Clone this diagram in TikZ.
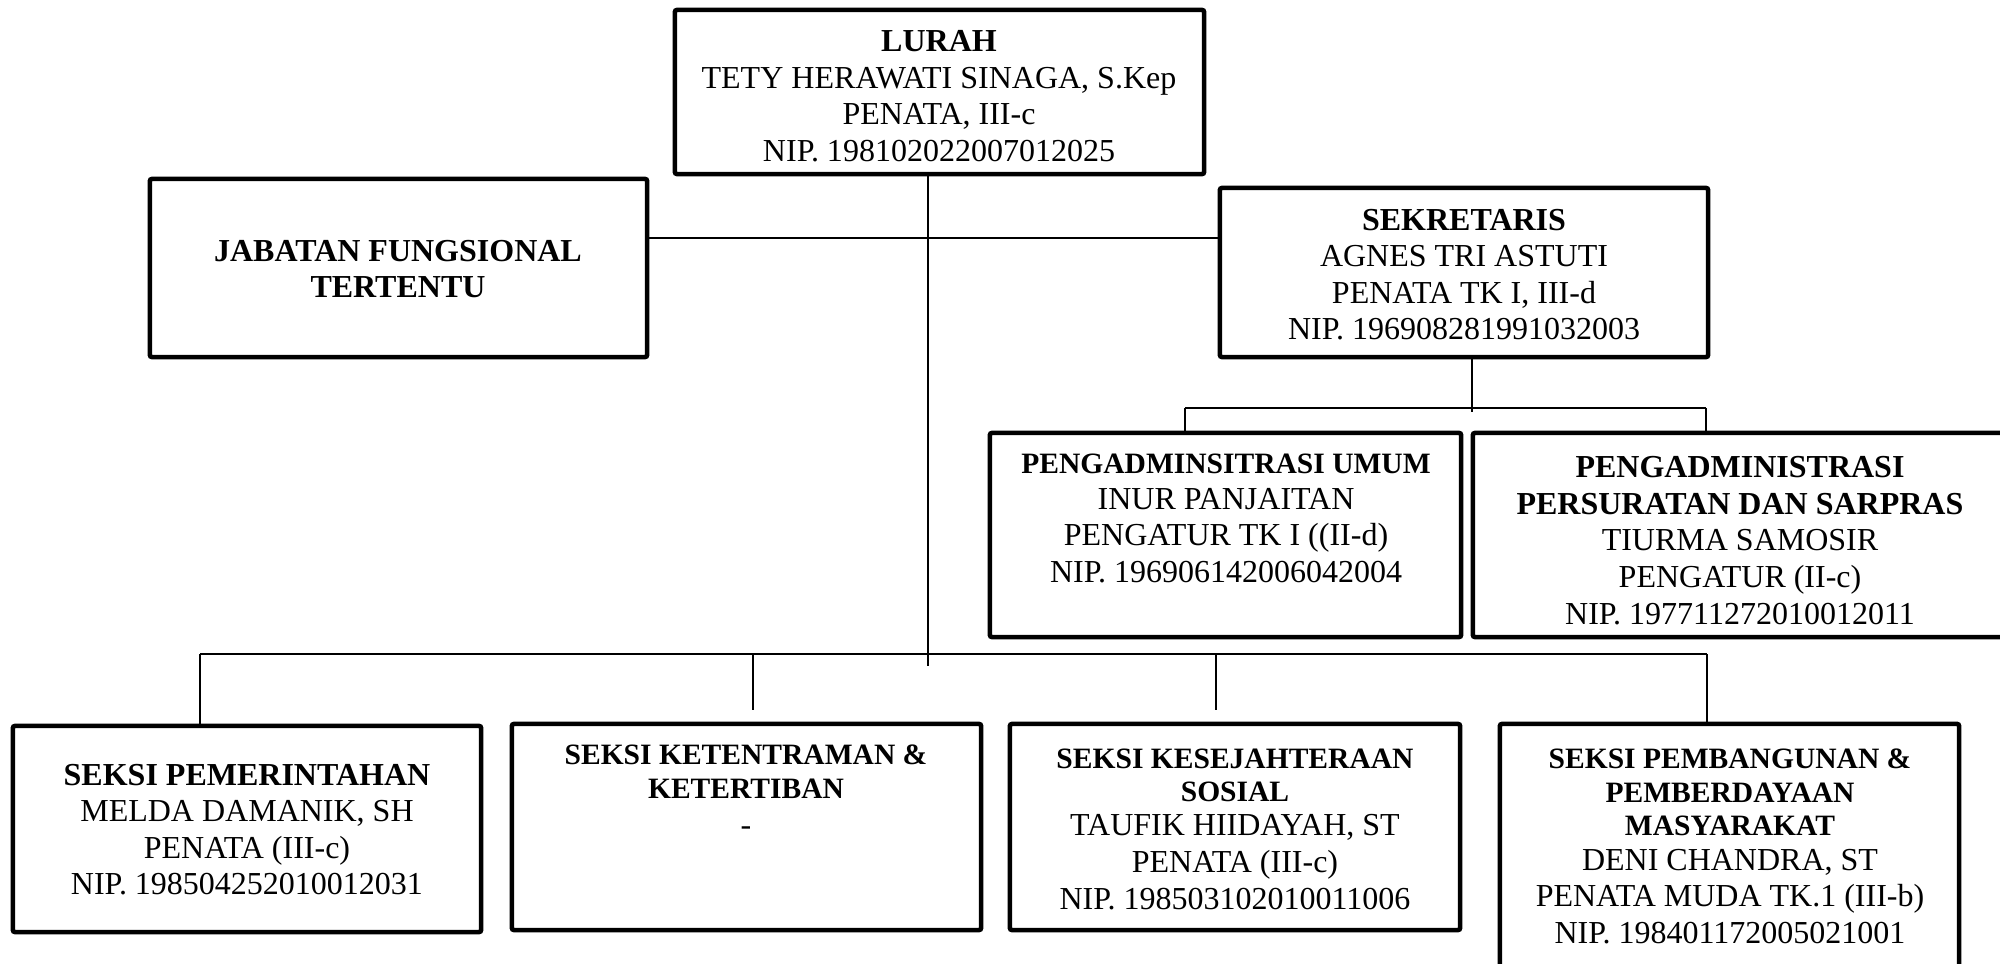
\documentclass[tikz,border=0pt]{standalone}
\usepackage{fontspec}
\setmainfont{Liberation Serif}
\newcommand\smallbf[1]{{\fontsize{8.4}{9.4}\selectfont\bfseries #1}}
\begin{document}
\begin{tikzpicture}[x=0.01cm,y=-0.01cm,
  box/.style={draw,line width=1.3pt,rounded corners=0.6pt,inner sep=0pt},
  txt/.style={align=center,inner sep=0pt,font=\fontsize{9.1}{10.4}\selectfont},
  conn/.style={line width=0.5pt}]
\useasboundingbox (0,0) rectangle (2000,964);
% boxes
\node[box,minimum width=5.29cm,minimum height=1.64cm] (lurah) at (939.5,92) {};
\node[box,minimum width=4.97cm,minimum height=1.78cm] (jab) at (398.5,268) {};
\node[box,minimum width=4.88cm,minimum height=1.69cm] (sek) at (1464,272.5) {};
\node[box,minimum width=4.71cm,minimum height=2.04cm] (umum) at (1225.5,535) {};
\node[box,minimum width=5.37cm,minimum height=2.04cm] (pers) at (1741.5,535) {};
\node[box,minimum width=4.68cm,minimum height=2.06cm] (pem) at (247,829) {};
\node[box,minimum width=4.69cm,minimum height=2.06cm] (ket) at (746.5,827) {};
\node[box,minimum width=4.50cm,minimum height=2.06cm] (kes) at (1235,827) {};
\node[box,minimum width=4.59cm,minimum height=2.56cm] (bang) at (1729.5,852) {};
% texts
\node[txt] (lurahT) at (939,96) {\textbf{LURAH}\\TETY HERAWATI SINAGA, S.Kep\\PENATA, III-c\\NIP. 198102022007012025};
\node[txt] (jabT) at (398,269) {\textbf{JABATAN FUNGSIONAL}\\\textbf{TERTENTU}};
\node[txt] (sekT) at (1464,274.5) {\textbf{SEKRETARIS}\\AGNES TRI ASTUTI\\PENATA TK I, III-d\\NIP. 196908281991032003};
\node[txt] (umumT) at (1226,518.5) {\smallbf{PENGADMINSITRASI UMUM}\\[-0.3pt]INUR PANJAITAN\\PENGATUR TK I ((II-d)\\NIP. 196906142006042004};
\node[txt] (persT) at (1740,540.5) {\textbf{PENGADMINISTRASI}\\\textbf{PERSURATAN DAN SARPRAS}\\TIURMA SAMOSIR\\PENGATUR (II-c)\\NIP. 197711272010012011};
\node[txt] (pemT) at (247,829.5) {\textbf{SEKSI PEMERINTAHAN}\\MELDA DAMANIK, SH\\PENATA (III-c)\\NIP. 198504252010012031};
\node[txt] (ketT) at (746,790) {\smallbf{SEKSI KETENTRAMAN \&}\\[-0.6pt]\smallbf{KETERTIBAN}\\-};
\node[txt] (kesT) at (1235,829) {\smallbf{SEKSI KESEJAHTERAAN}\\[-0.9pt]\smallbf{SOSIAL}\\[-0.6pt]TAUFIK HIIDAYAH, ST\\PENATA (III-c)\\NIP. 198503102010011006};
\node[txt] (bangT) at (1730,846.5) {\smallbf{SEKSI PEMBANGUNAN \&}\\[-0.9pt]\smallbf{PEMBERDAYAAN}\\[-0.9pt]\smallbf{MASYARAKAT}\\[-0.6pt]DENI CHANDRA, ST\\PENATA MUDA TK.1 (III-b)\\NIP. 198401172005021001};
% connector coordinates
\coordinate (mend) at (928,666);
\coordinate (hj) at (928,238);
\coordinate (sb) at (1472,408);
\coordinate (su) at (1185,408);
\coordinate (sp) at (1706,408);
\coordinate (b1) at (200,654);
\coordinate (b2) at (753,654);
\coordinate (b3) at (1216,654);
\coordinate (b4) at (1707,654);
% connectors
\draw[conn] (lurah.south -| mend) -- (mend);
\draw[conn] (jab.east |- hj) -- (sek.west |- hj);
\draw[conn] (sek.south -| sb) -- ([yshift=-0.04cm]sb);
\draw[conn] (su) -- (sp);
\draw[conn] (su) -- (su |- umum.north);
\draw[conn] (sp) -- (sp |- pers.north);
\draw[conn] (b1) -- (b4);
\draw[conn] (b1) -- (b1 |- pem.north);
\draw[conn,shorten >=0.12cm] (b2) -- (b2 |- ket.north);
\draw[conn,shorten >=0.12cm] (b3) -- (b3 |- kes.north);
\draw[conn] (b4) -- (b4 |- bang.north);
\end{tikzpicture}
\end{document}
